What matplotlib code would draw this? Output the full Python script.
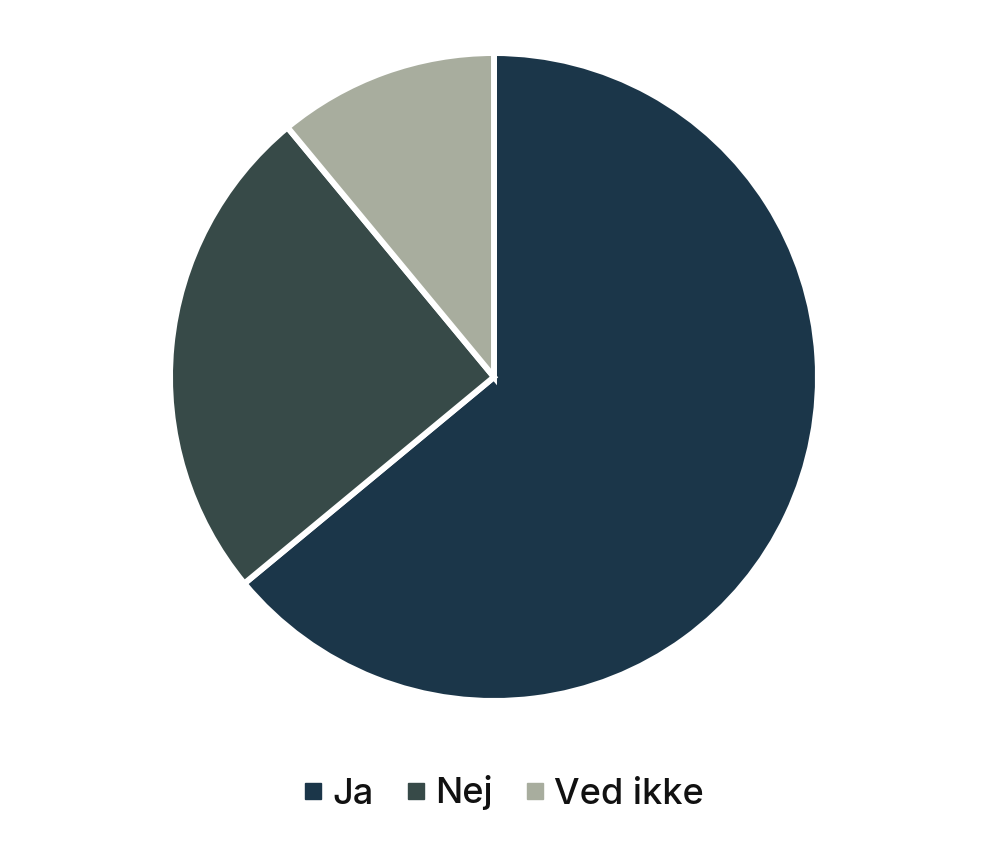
import matplotlib
matplotlib.use("Agg")
import matplotlib.pyplot as plt
from matplotlib.lines import Line2D

labels = ["Ja", "Nej", "Ved ikke"]
values = [64, 25, 11]
colors = ["#1b3649", "#374a48", "#a8ad9e"]

plt.rcParams['font.family'] = ['Inter', 'DejaVu Sans']

fig = plt.figure(figsize=(9.9, 8.66), dpi=100)
ax = fig.add_axes([170/990, 165/866, 648/990, 648/866])
ax.pie(values, colors=colors, startangle=90, counterclock=False,
       wedgeprops=dict(edgecolor="white", linewidth=4.3))
ax.set_xlim(-1, 1)
ax.set_ylim(-1, 1)
ax.set_aspect('equal')
ax.axis('off')

handles = [Line2D([0], [0], marker='s', linestyle='none', markersize=11,
                  markerfacecolor=c, markeredgecolor=c) for c in colors]
fig.legend(handles, labels, loc='center', bbox_to_anchor=(504/990, 1 - 793/866),
           ncol=3, frameon=False, prop=dict(size=26, weight='medium'),
           handlelength=0.5, handletextpad=0.3, columnspacing=0.9,
           labelcolor="#111111")

fig.savefig("out.png", dpi=100)
